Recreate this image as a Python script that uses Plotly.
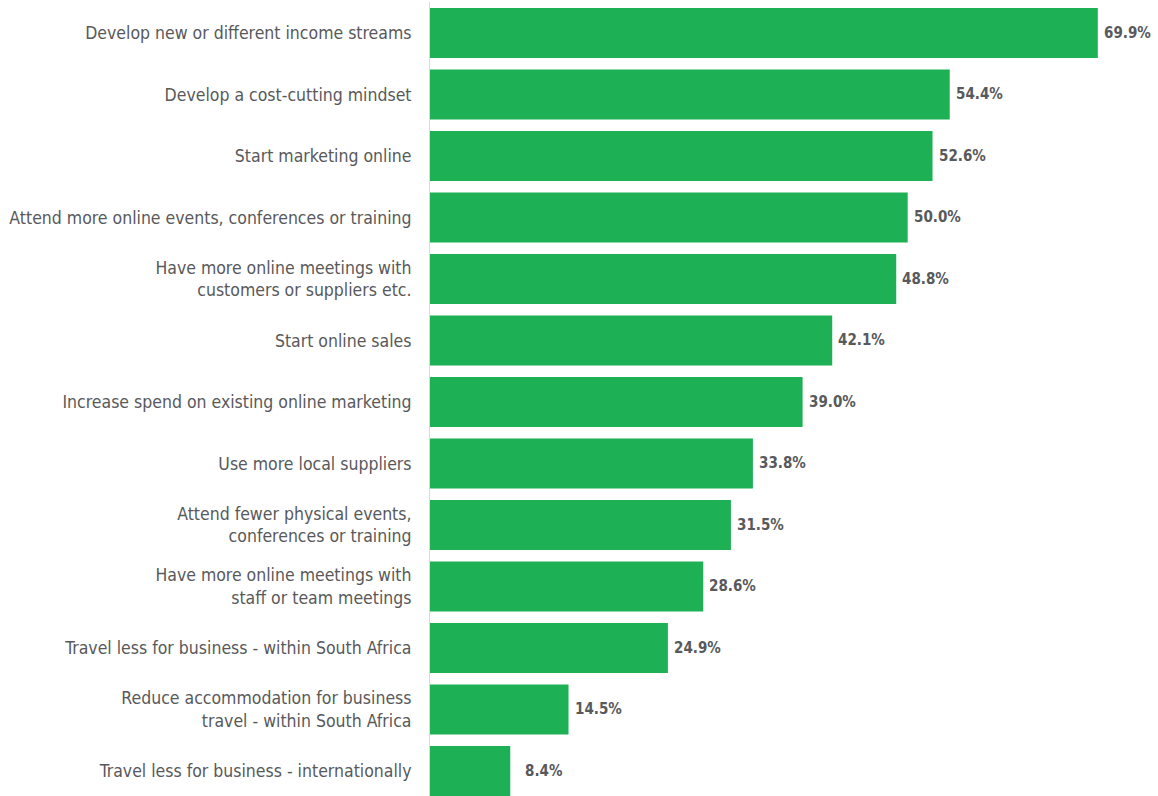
import plotly.graph_objects as go

categories = [
    "Develop new or different income streams",
    "Develop a cost-cutting mindset",
    "Start marketing online",
    "Attend more online events, conferences or training",
    "Have more online meetings with<br>customers or suppliers etc.",
    "Start online sales",
    "Increase spend on existing online marketing",
    "Use more local suppliers",
    "Attend fewer physical events,<br>conferences or training",
    "Have more online meetings with<br>staff or team meetings",
    "Travel less for business - within South Africa",
    "Reduce accommodation for business<br>travel - within South Africa",
    "Travel less for business - internationally",
]
values = [69.9, 54.4, 52.6, 50.0, 48.8, 42.1, 39.0, 33.8, 31.5, 28.6, 24.9, 14.5, 8.4]
value_labels = [f"{v:.1f}%" for v in values]

FONT = "DejaVu Sans Condensed, Liberation Sans Narrow, sans-serif"
GREEN = "#1DB054"
GREY = "#58595B"

fig = go.Figure(
    go.Bar(
        x=values,
        y=categories,
        orientation="h",
        marker=dict(color=GREEN, line=dict(width=0)),
        hoverinfo="skip",
    )
)

for v, c, t in zip(values, categories, value_labels):
    fig.add_annotation(
        x=v, y=c, text=t, showarrow=False,
        xanchor="right", xshift=55, yanchor="middle",
        font=dict(family=FONT, size=15, color=GREY, weight="bold"),
    )

fig.update_layout(
    width=1158,
    height=796,
    margin=dict(l=430, r=0, t=2, b=0, autoexpand=False),
    paper_bgcolor="white",
    plot_bgcolor="white",
    bargap=0.19,
    showlegend=False,
    font=dict(family=FONT, color=GREY),
)
fig.update_xaxes(
    range=[0, 76.2], showgrid=False, zeroline=False, showticklabels=False,
    showline=False, automargin=False,
)
fig.update_yaxes(
    type="category",
    range=[12.407, -0.504],
    showgrid=False, zeroline=False, automargin=False,
    showline=True, linecolor="#DADADA", linewidth=1,
    ticks="", ticklabelstandoff=14,
    tickfont=dict(family=FONT, size=17.5, color=GREY),
)

fig.write_html(
    "out.html",
    config={"displayModeBar": False},
    post_script="document.body.style.margin='0';document.body.style.overflow='hidden';",
)
